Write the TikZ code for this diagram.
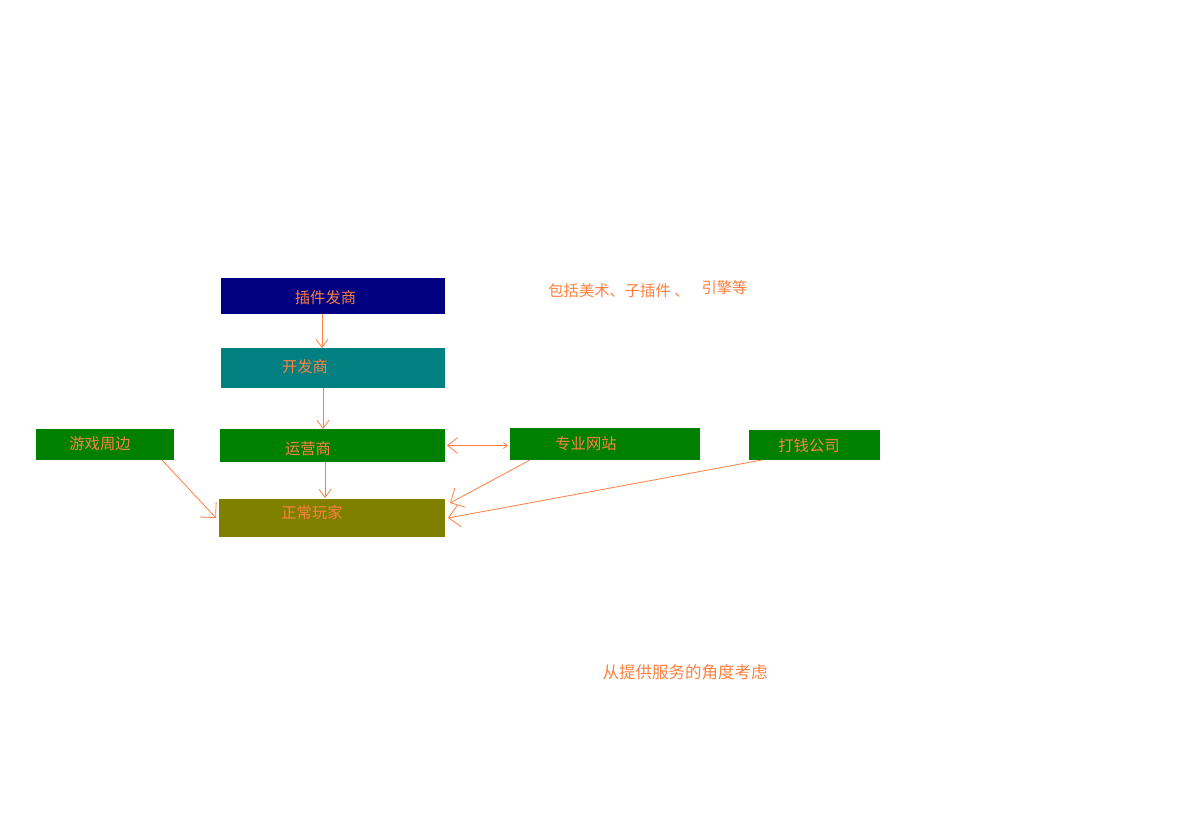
\documentclass[tikz,border=0pt]{standalone}
\usepackage{fontspec}
\setmainfont{Noto Sans CJK SC}
\usetikzlibrary{arrows.meta}
\definecolor{navyc}{RGB}{0,0,128}
\definecolor{tealc}{RGB}{0,128,128}
\definecolor{greenc}{RGB}{0,128,0}
\definecolor{olivec}{RGB}{128,128,0}
\definecolor{orangec}{RGB}{255,128,64}
\begin{document}
\begin{tikzpicture}[x=1pt,y=-1pt,
  box/.style={draw=none,inner sep=0pt,outer sep=0pt},
  lbl/.style={text=orangec,font=\fontsize{15.3}{17}\selectfont,inner sep=0pt},
  conn/.style={draw=orangec,line width=0.8pt},
  tipv/.style={-{Straight Barb[length=8pt,width=12pt]}},
  tipd/.style={-{Straight Barb[length=11pt,width=22pt]}}]
\useasboundingbox (0,0) rectangle (1203,829);
\fill[white] (0,0) rectangle (1203,829);
% boxes
\node[box,fill=navyc,minimum width=224pt,minimum height=36pt] (plug) at (333,296) {};
\node[box,fill=tealc,minimum width=224pt,minimum height=40pt] (dev) at (333,368) {};
\node[box,fill=greenc,minimum width=225pt,minimum height=33pt] (op) at (332.5,445.5) {};
\node[box,fill=greenc,minimum width=138pt,minimum height=31pt] (peri) at (105,444.5) {};
\node[box,fill=olivec,minimum width=226pt,minimum height=38pt] (player) at (332,518) {};
\node[box,fill=greenc,minimum width=190pt,minimum height=32pt] (site) at (605,444) {};
\node[box,fill=greenc,minimum width=131pt,minimum height=30pt] (money) at (814.5,445) {};
% labels
\node[lbl] (tplug) at (325.5,298) {插件发商};
\node[lbl] (tdev) at (305,367) {开发商};
\node[lbl] (top) at (308,448.5) {运营商};
\node[lbl] (tperi) at (100,444) {游戏周边};
\node[lbl] (tplayer) at (312,513) {正常玩家};
\node[lbl] (tsite) at (586,444) {专业网站};
\node[lbl] (tmoney) at (809,446) {打钱公司};
\node[lbl] (note1) at (619,291) {包括美术、子插件 、};
\node[lbl] (note2) at (724.5,288) {引擎等};
\node[lbl,font=\fontsize{16.5}{18}\selectfont] (note3) at (685,672) {从提供服务的角度考虑};
% connectors
\draw[conn,tipv] ([xshift=-11pt]plug.south) -- ([xshift=-11pt]dev.north);
\draw[conn,tipv] ([xshift=-10pt]dev.south) -- ([xshift=-9.5pt]op.north);
\draw[conn,tipv] ([xshift=-7.5pt]op.south) -- ([xshift=-7pt,yshift=1pt]player.north);
\draw[conn,{Straight Barb[length=10pt,width=16pt]}-{Straight Barb[length=4pt,width=6pt]}] ([xshift=2pt]op.east) -- ([xshift=-2pt,yshift=-1.5pt]site.west);
\draw[conn,tipd] ([xshift=57pt]peri.south) -- ([xshift=-3pt]player.west);
\draw[conn,tipd] ([xshift=-75pt]site.south) -- ([xshift=5pt,yshift=15pt]player.east);
\draw[conn,tipd] ([xshift=-52.5pt]money.south) -- ([xshift=3pt]player.east);
\end{tikzpicture}
\end{document}
